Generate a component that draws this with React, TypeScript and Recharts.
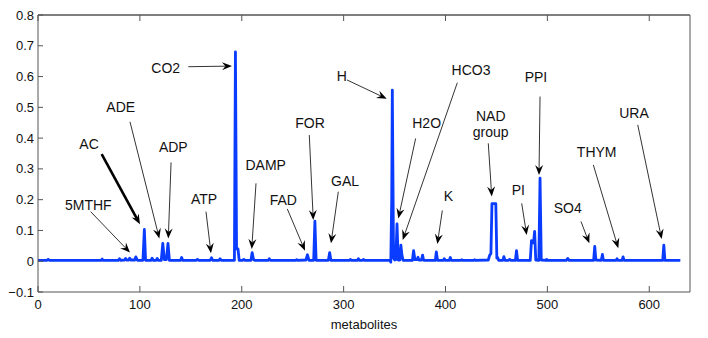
import { LineChart, Line, XAxis, YAxis, ReferenceLine, ReferenceDot } from 'recharts';

// metabolite index (x) and abundance (y), read peak by peak off the trace
const metaboliteIndex = [
  0, 9, 10, 11,
  62, 63, 64,
  79, 80, 81,
  85, 86, 87,
  89, 90, 91,
  95, 96, 97.5,
  103, 104.4, 105.6,
  111, 112, 113,
  116, 117, 118,
  121, 122.5, 124, 126, 127.6, 129,
  140, 141, 142,
  155.5, 156.5, 157.5,
  169, 170.3, 171.5,
  177.5, 178.7, 180,
  192.8, 193.8, 194.9, 196.3, 197.5,
  201, 202, 203,
  209, 210.2, 211.5, 212.5,
  226, 227, 228,
  253, 254, 255,
  263, 264.5, 266,
  270.6, 271.8, 273,
  285, 286.3, 287.5,
  305.8, 306.6, 307.4,
  313.6, 314.5, 315.4,
  318.6, 319.4, 320.2,
  345.4, 346.3, 347.2, 347.8, 349, 350.2, 351.2, 352.4, 353.6, 355.2, 356.2, 357.3, 358.4,
  367.5, 368.7, 370, 372, 373, 374, 376.5, 377.5, 378.5,
  390, 391, 392.2,
  398, 398.8, 399.6,
  403.8, 404.7, 405.6,
  415.4, 416, 416.6,
  428, 428.6, 429.2,
  442, 443.4, 444.6, 445.6, 449.4, 450.4, 451.2, 452.2,
  456.2, 457.3, 458.4,
  462, 463, 464,
  468.6, 469.7, 470.8,
  483.2, 484.4, 485.6, 486.4, 487.5, 488.6,
  491.6, 492.8, 494,
  498.6, 499.3, 500,
  518.6, 520, 521.4,
  545.4, 546.5, 547.6,
  553, 554, 555,
  567.6, 568.4, 569.2,
  573.3, 574.3, 575.3,
  613.2, 614.3, 615.4,
  630.5,
];

const abundance = [
  0.003, 0.003, 0.006, 0.003,
  0.003, 0.007, 0.003,
  0.003, 0.008, 0.003,
  0.004, 0.009, 0.004,
  0.004, 0.010, 0.004,
  0.004, 0.014, 0.003,
  0.003, 0.103, 0.003,
  0.003, 0.010, 0.003,
  0.003, 0.009, 0.003,
  0.003, 0.058, 0.005, 0.005, 0.058, 0.003,
  0.003, 0.012, 0.003,
  0.003, 0.006, 0.003,
  0.003, 0.011, 0.003,
  0.003, 0.008, 0.003,
  0.003, 0.680, 0.040, 0.040, 0.003,
  0.003, 0.006, 0.003,
  0.003, 0.028, 0.006, 0.003,
  0.003, 0.008, 0.003,
  0.003, 0.005, 0.003,
  0.004, 0.021, 0.003,
  0.003, 0.130, 0.003,
  0.003, 0.028, 0.003,
  0.003, 0.006, 0.003,
  0.003, 0.008, 0.003,
  0.003, 0.006, 0.003,
  0.003, -0.003, 0.200, 0.556, 0.010, 0.004, 0.005, 0.121, 0.004, 0.004, 0.052, 0.018, 0.003,
  0.003, 0.034, 0.005, 0.005, 0.013, 0.004, 0.004, 0.020, 0.003,
  0.003, 0.030, 0.003,
  0.003, 0.008, 0.003,
  0.003, 0.012, 0.003,
  0.003, 0.005, 0.003,
  0.003, 0.005, 0.003,
  0.004, 0.020, 0.025, 0.187, 0.187, 0.010, 0.012, 0.003,
  0.003, 0.015, 0.003,
  0.003, 0.006, 0.003,
  0.003, 0.034, 0.003,
  0.003, 0.067, 0.060, 0.060, 0.097, 0.004,
  0.003, 0.270, 0.004,
  0.003, 0.006, 0.003,
  0.003, 0.009, 0.003,
  0.003, 0.048, 0.004,
  0.003, 0.022, 0.003,
  0.003, 0.008, 0.003,
  0.003, 0.014, 0.003,
  0.003, 0.052, 0.003,
  0.003,
];

const X_TICKS = [0, 100, 200, 300, 400, 500, 600];
const Y_TICKS = [-0.1, 0, 0.1, 0.2, 0.3, 0.4, 0.5, 0.6, 0.7, 0.8];

// annotations: label, label centre, arrow tail, arrow head (data units)
const annotationLabels = ['CO2', 'ADE', 'AC', 'ADP', '5MTHF', 'ATP', 'DAMP', 'FAD', 'FOR', 'GAL',
  'H', 'H2O', 'HCO3', 'NAD\ngroup', 'PPI', 'PI', 'K', 'SO4', 'THYM', 'URA'];
const labelAt: [number, number][] = [
  [125.4, 0.628], [81.2, 0.5], [50.1, 0.382], [132.8, 0.372], [49.4, 0.182], [163, 0.201],
  [223.5, 0.313], [240.8, 0.199], [267, 0.448], [301.4, 0.262], [298.1, 0.602], [381.5, 0.448],
  [425, 0.621], [444.4, 0.446], [488.8, 0.598], [471.5, 0.231], [402.8, 0.212], [520, 0.172],
  [548.4, 0.356], [585, 0.481],
];
const arrowTail: [number, number][] = [
  [147.5, 0.632], [90.3, 0.453], [62.5, 0.348], [130.6, 0.321], [51.7, 0.161], [164.9, 0.161],
  [214, 0.253], [244.7, 0.17], [266.3, 0.41], [294.8, 0.226], [303.3, 0.589], [370.7, 0.399],
  [411.6, 0.58], [442, 0.383], [492.8, 0.535], [474.8, 0.188], [396.9, 0.165], [533, 0.129],
  [545.1, 0.313], [588.7, 0.443],
];
const arrowHead: [number, number][] = [
  [190.4, 0.634], [119.1, 0.074], [100.1, 0.12], [127.9, 0.074], [90.3, 0.028], [169.8, 0.026],
  [209.8, 0.04], [262.1, 0.034], [270.2, 0.134], [287.6, 0.058], [342.3, 0.528], [353.7, 0.139],
  [358, 0.069], [445.4, 0.21], [491.8, 0.28], [479.7, 0.085], [392, 0.056], [541.2, 0.058],
  [569.6, 0.042], [612.2, 0.072],
];
const boldArrows = ['AC'];

const data = metaboliteIndex.map((m, i) => ({ m, v: abundance[i] }));

const AXIS = '#555';
const TEXT = '#111';
const BLUE = '#0a3cff';

const fmtY = (v: number) => (v === 0 ? '0' : v < 0 ? '\u2212' + Math.abs(v) : String(v));

const LeftTick = ({ x, y, payload }: any) => (
  <g>
    <line x1={x} y1={y} x2={x + 5} y2={y} stroke={AXIS} />
    <text x={x - 4} y={y} textAnchor="end" dominantBaseline="central" fontSize={13} fill={TEXT}>
      {fmtY(payload.value)}
    </text>
  </g>
);

const BottomTick = ({ x, y, payload }: any) => (
  <g>
    <line x1={x} y1={y} x2={x} y2={y - 6} stroke={AXIS} />
    <text x={x} y={y + 12} textAnchor="middle" dominantBaseline="central" fontSize={13} fill={TEXT}>
      {payload.value}
    </text>
  </g>
);

const TopTick = ({ x, y }: any) => <line x1={x} y1={y} x2={x} y2={y + 6} stroke={AXIS} />;
const RightTick = ({ x, y }: any) => <line x1={x} y1={y} x2={x - 6} y2={y} stroke={AXIS} />;

const arrowShape = (bold: boolean) => (props: any) => {
  const { x1, y1, x2, y2 } = props;
  const dx = x2 - x1;
  const dy = y2 - y1;
  const len = Math.sqrt(dx * dx + dy * dy) || 1;
  const ux = dx / len;
  const uy = dy / len;
  const L = 10;
  const W = 4;
  const bx = x2 - L * ux;
  const by = y2 - L * uy;
  const nx = x2 - (L - 3.5) * ux;
  const ny = y2 - (L - 3.5) * uy;
  const pts = [
    `${x2},${y2}`,
    `${bx - W * uy},${by + W * ux}`,
    `${nx},${ny}`,
    `${bx + W * uy},${by - W * ux}`,
  ].join(' ');
  return (
    <g>
      <line x1={x1} y1={y1} x2={nx} y2={ny} stroke="#000" strokeWidth={bold ? 2.6 : 0.8} />
      <polygon points={pts} fill="#000" />
    </g>
  );
};

const labelShape = (text: string) => (props: any) => {
  const { cx, cy } = props;
  const lines = text.split('\n');
  return (
    <text x={cx} y={cy} textAnchor="middle" dominantBaseline="central" fontSize={14} fill={TEXT}>
      {lines.length === 1
        ? text
        : lines.map((ln, i) => (
            <tspan key={ln} x={cx} y={cy + (i - (lines.length - 1) / 2) * 15.7}>
              {ln}
            </tspan>
          ))}
    </text>
  );
};

export default function App() {
  return (
    <div
      style={{
        position: 'absolute',
        left: 0,
        top: 0,
        width: 708,
        height: 338,
        background: '#fff',
        fontFamily: "'Liberation Sans', Arial, Helvetica, sans-serif",
      }}
    >
      <LineChart width={708} height={338} data={data} margin={{ top: 0, right: 0, bottom: 0, left: 0 }}>
        <XAxis
          dataKey="m"
          type="number"
          domain={[0, 640]}
          ticks={X_TICKS}
          height={46}
          tickSize={0}
          tickMargin={0}
          tickLine={false}
          axisLine={{ stroke: AXIS }}
          tick={<BottomTick />}
          interval={0}
          label={{ value: 'metabolites', position: 'insideBottom', offset: 9, fill: TEXT, fontSize: 13 }}
        />
        <XAxis
          xAxisId="top"
          orientation="top"
          dataKey="m"
          type="number"
          domain={[0, 640]}
          ticks={X_TICKS}
          height={15}
          tickSize={0}
          tickMargin={0}
          tickLine={false}
          axisLine={{ stroke: '#000' }}
          tick={<TopTick />}
          interval={0}
        />
        <YAxis
          type="number"
          domain={[-0.1, 0.8]}
          ticks={Y_TICKS}
          width={38}
          tickSize={0}
          tickMargin={0}
          tickLine={false}
          axisLine={{ stroke: AXIS }}
          tick={<LeftTick />}
          interval={0}
        />
        <YAxis
          yAxisId="right"
          orientation="right"
          type="number"
          domain={[-0.1, 0.8]}
          ticks={Y_TICKS}
          width={18}
          tickSize={0}
          tickMargin={0}
          tickLine={false}
          axisLine={{ stroke: AXIS }}
          tick={<RightTick />}
          interval={0}
        />
        <Line
          type="linear"
          dataKey="v"
          stroke={BLUE}
          strokeWidth={2.8}
          strokeLinejoin="round"
          dot={false}
          activeDot={false}
          isAnimationActive={false}
        />
        {annotationLabels.map((lbl, i) => (
          <ReferenceLine
            key={`arrow-${i}`}
            segment={[
              { x: arrowTail[i][0], y: arrowTail[i][1] },
              { x: arrowHead[i][0], y: arrowHead[i][1] },
            ]}
            ifOverflow="visible"
            shape={arrowShape(boldArrows.includes(lbl))}
          />
        ))}
        {annotationLabels.map((lbl, i) => (
          <ReferenceDot
            key={`label-${i}`}
            x={labelAt[i][0]}
            y={labelAt[i][1]}
            r={0}
            ifOverflow="visible"
            shape={labelShape(lbl)}
          />
        ))}
      </LineChart>
    </div>
  );
}
